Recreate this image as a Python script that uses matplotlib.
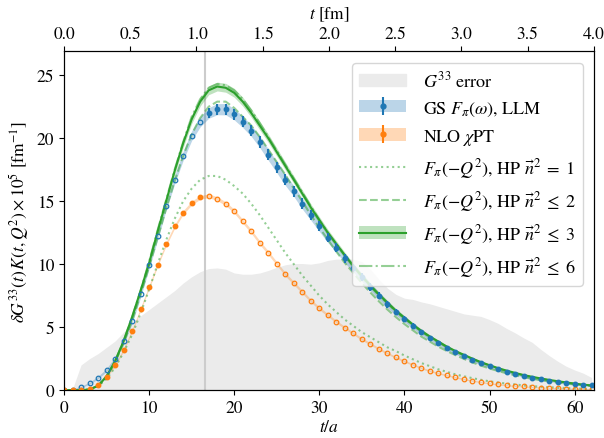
import numpy as np
import matplotlib
matplotlib.use("Agg")
from matplotlib import pyplot as plt
from matplotlib.patches import Patch

plt.rcParams['font.family'] = 'serif'
plt.rcParams['font.serif'] = ['STIXGeneral', 'Liberation Serif', 'DejaVu Serif']
plt.rcParams['mathtext.fontset'] = 'stix'
plt.rcParams['font.size'] = 12.5

A_FM = 0.06426
T_CUT = 16.6
T_A = list(range(63))

# gray band: size of the G^33 error
G33_ERR = [0.0, 0.1, 2.0, 2.5, 2.9, 3.4, 3.9, 4.6, 5.3, 5.9, 6.4, 6.9, 7.4, 7.9, 8.5, 9.0,
           9.4, 9.65, 9.7, 9.6, 9.3, 9.2, 9.2, 9.3, 9.5, 9.75, 9.95, 10.05, 10.05, 10.0, 10.1,
           10.3, 10.4, 10.4, 10.4, 10.2, 9.6, 8.8, 8.1, 7.6, 7.3, 7.2, 7.0, 6.85, 6.65, 6.45,
           6.25, 6.05, 5.95, 5.85, 5.6, 5.3, 4.9, 4.55, 4.15, 3.8, 3.25, 2.75, 2.3, 1.9, 1.6,
           1.35, 1.0]

# GS F_pi(omega), LLM
GS_VAL = [0.0, 0.05, 0.26, 0.55, 1.0, 1.6, 2.5, 3.9, 5.5, 7.6, 9.9, 12.2, 14.6, 16.7, 18.6,
          20.2, 21.3, 22.0, 22.3, 22.3, 21.9, 21.3, 20.6, 19.7, 18.7, 17.7, 16.7, 15.8, 14.8,
          13.9, 13.0, 12.1, 11.3, 10.45, 9.7, 8.95, 8.2, 7.5, 6.8, 6.2, 5.65, 5.1, 4.6, 4.15,
          3.75, 3.35, 3.0, 2.7, 2.4, 2.12, 1.88, 1.66, 1.46, 1.28, 1.11, 0.97, 0.85, 0.74,
          0.65, 0.57, 0.5, 0.44, 0.39]
GS_ERR = [0.02, 0.04, 0.06, 0.08, 0.1, 0.12, 0.15, 0.18, 0.2, 0.22, 0.25, 0.28, 0.3, 0.33,
          0.36, 0.38, 0.4, 0.42, 0.44, 0.45, 0.45, 0.45, 0.45, 0.45, 0.45, 0.44, 0.44, 0.43,
          0.42, 0.41, 0.4, 0.38, 0.36, 0.35, 0.33, 0.31, 0.3, 0.28, 0.26, 0.25, 0.23, 0.21,
          0.2, 0.18, 0.17, 0.16, 0.15, 0.14, 0.13, 0.12, 0.11, 0.1, 0.09, 0.08, 0.08, 0.07,
          0.07, 0.06, 0.06, 0.05, 0.05, 0.05, 0.05]

# NLO chiPT
CPT_VAL = [0.0, 0.0, 0.02, 0.12, 0.4, 1.08, 1.97, 3.2, 4.72, 6.43, 8.2, 9.97, 11.6, 13.0,
           14.1, 14.85, 15.3, 15.43, 15.2, 14.8, 14.2, 13.4, 12.6, 11.7, 10.9, 10.05, 9.2,
           8.5, 7.8, 7.1, 6.5, 5.96, 5.43, 4.96, 4.5, 4.06, 3.67, 3.28, 2.93, 2.6, 2.3, 2.03,
           1.76, 1.53, 1.34, 1.18, 1.02, 0.88, 0.75, 0.64, 0.54, 0.46, 0.39, 0.34, 0.29, 0.25,
           0.21, 0.18, 0.16, 0.13, 0.12, 0.1, 0.09]
CPT_ERR = [0.02, 0.03, 0.04, 0.05, 0.06, 0.08, 0.1, 0.12, 0.13, 0.14, 0.15, 0.15, 0.15,
           0.15, 0.15, 0.15, 0.15, 0.15, 0.15, 0.15, 0.15, 0.15, 0.15, 0.15, 0.15, 0.14,
           0.14, 0.13, 0.13, 0.12, 0.12, 0.11, 0.11, 0.1, 0.1, 0.1, 0.09, 0.09, 0.08, 0.08,
           0.08, 0.07, 0.07, 0.07, 0.06, 0.06, 0.06, 0.06, 0.05, 0.05, 0.05, 0.05, 0.05,
           0.05, 0.04, 0.04, 0.04, 0.04, 0.04, 0.04, 0.04, 0.04, 0.04]

# F_pi(-Q^2), HP fits
HP1_VAL = [0.0, 0.0, 0.0, 0.0, 0.3, 0.9, 1.8, 3.0, 4.4, 6.1, 8.0, 10.0, 11.9, 13.6, 15.0,
           16.0, 16.7, 17.0, 17.0, 16.7, 16.2, 15.6, 14.8, 13.9, 12.9, 11.9, 10.9, 10.0, 9.1,
           8.3, 7.5, 6.8, 6.2, 5.6, 5.1, 4.6, 4.2, 3.8, 3.4, 3.1, 2.75, 2.45, 2.15, 1.9,
           1.65, 1.45, 1.25, 1.1, 0.95, 0.82, 0.7, 0.6, 0.52, 0.45, 0.38, 0.32, 0.27, 0.23,
           0.2, 0.17, 0.14, 0.12, 0.1]
HP2_VAL = [0.0, 0.0, 0.0, 0.05, 0.35, 1.05, 2.2, 3.7, 5.5, 7.6, 9.8, 12.1, 14.4, 16.6,
           18.6, 20.3, 21.6, 22.5, 22.9, 22.9, 22.4, 21.7, 21.0, 20.1, 19.1, 18.1, 17.1,
           16.0, 15.0, 13.9, 12.9, 11.95, 11.0, 10.1, 9.3, 8.5, 7.75, 7.05, 6.4, 5.8, 5.25,
           4.75, 4.25, 3.85, 3.45, 3.1, 2.78, 2.48, 2.2, 1.95, 1.72, 1.52, 1.34, 1.18, 1.03,
           0.9, 0.79, 0.69, 0.6, 0.52, 0.45, 0.39, 0.34]
HP3_VAL = [0.0, 0.0, 0.0, 0.05, 0.35, 1.1, 2.3, 3.9, 5.8, 7.9, 10.1, 12.6, 15.0, 17.4, 19.6,
           21.5, 22.9, 23.8, 24.1, 24.0, 23.6, 22.9, 22.0, 21.0, 20.0, 18.9, 17.8, 16.7,
           15.6, 14.5, 13.5, 12.5, 11.6, 10.7, 9.85, 9.05, 8.3, 7.6, 6.95, 6.3, 5.75, 5.2,
           4.7, 4.25, 3.85, 3.45, 3.1, 2.8, 2.5, 2.22, 1.98, 1.75, 1.55, 1.37, 1.2, 1.06,
           0.93, 0.81, 0.71, 0.61, 0.52, 0.44, 0.37]
HP3_ERR = [0.0, 0.0, 0.0, 0.01, 0.03, 0.06, 0.1, 0.14, 0.18, 0.22, 0.25, 0.28, 0.3, 0.32,
           0.33, 0.34, 0.35, 0.35, 0.35, 0.35, 0.35, 0.35, 0.34, 0.34, 0.33, 0.32, 0.31,
           0.3, 0.29, 0.28, 0.27, 0.26, 0.25, 0.24, 0.22, 0.21, 0.2, 0.19, 0.18, 0.17, 0.16,
           0.15, 0.14, 0.13, 0.12, 0.11, 0.1, 0.09, 0.08, 0.08, 0.07, 0.06, 0.06, 0.05,
           0.05, 0.04, 0.04, 0.04, 0.03, 0.03, 0.03, 0.03, 0.03]
HP6_VAL = [0.0, 0.0, 0.0, 0.05, 0.35, 1.1, 2.3, 3.9, 5.8, 7.9, 10.2, 12.7, 15.1, 17.5, 19.7,
           21.7, 23.1, 24.0, 24.3, 24.2, 23.8, 23.1, 22.2, 21.2, 20.1, 19.0, 17.9, 16.8,
           15.7, 14.6, 13.5, 12.5, 11.6, 10.7, 9.85, 9.0, 8.25, 7.55, 6.9, 6.25, 5.7, 5.15,
           4.65, 4.2, 3.8, 3.4, 3.05, 2.75, 2.45, 2.18, 1.94, 1.71, 1.51, 1.33, 1.17, 1.03,
           0.9, 0.79, 0.69, 0.6, 0.51, 0.43, 0.36]

BLUE = '#1f77b4'
ORANGE = '#ff7f0e'
GREEN = '#2ca02c'


def main():
    t = np.array(T_A)
    gs = np.array(GS_VAL)
    gs_err = np.array(GS_ERR)
    cpt = np.array(CPT_VAL)
    cpt_err = np.array(CPT_ERR)
    hp3 = np.array(HP3_VAL)
    hp3_err = np.array(HP3_ERR)

    fig = plt.figure(figsize=(6.04, 4.39), dpi=100)
    ax = fig.add_axes([0.106, 0.109, 0.877, 0.772])

    ax.fill_between(t, 0, G33_ERR, color='#ebebeb', lw=0, zorder=0)
    ax.axvline(T_CUT, color='#cccccc', lw=1.5, zorder=1)

    # GS / LLM
    ax.fill_between(t, gs - gs_err, gs + gs_err, color=BLUE, alpha=0.3, lw=0, zorder=2)
    early = t < T_CUT
    late = ~early
    ax.plot(t[early], gs[early], 'o', ms=3.3, mfc='none', mec=BLUE, mew=0.9, zorder=4)
    ax.errorbar(t[late], gs[late], yerr=gs_err[late], fmt='o', ms=3.2, color=BLUE,
                elinewidth=1.5, capsize=0, zorder=4)

    # NLO chiPT
    ax.fill_between(t, cpt - cpt_err, cpt + cpt_err, color=ORANGE, alpha=0.3, lw=0, zorder=2)
    ax.errorbar(t[early], cpt[early], yerr=cpt_err[early], fmt='o', ms=3.2, color=ORANGE,
                elinewidth=1.5, capsize=0, zorder=4)
    ax.plot(t[late], cpt[late], 'o', ms=3.3, mfc='none', mec=ORANGE, mew=0.9, zorder=4)

    # HP curves
    ax.plot(t, HP1_VAL, ':', color=GREEN, alpha=0.5, lw=1.5, zorder=3)
    ax.plot(t, HP2_VAL, '--', color=GREEN, alpha=0.5, lw=1.5, zorder=3)
    ax.fill_between(t, hp3 - hp3_err, hp3 + hp3_err, color=GREEN, alpha=0.3, lw=0, zorder=3)
    ax.plot(t, hp3, '-', color=GREEN, lw=1.5, zorder=3)
    ax.plot(t, HP6_VAL, '-.', color=GREEN, alpha=0.5, lw=1.5, zorder=3)

    t_max = 4.0 / A_FM
    ax.set_xlim(0, t_max)
    ax.set_ylim(0, 26.9)
    ax.set_xticks([0, 10, 20, 30, 40, 50, 60])
    ax.set_yticks([0, 5, 10, 15, 20, 25])
    ax.set_xlabel(r'$t/a$', labelpad=2)
    ax.set_ylabel(r'$\delta G^{33}(t)\,K(t,Q^2)\times 10^5$ [fm$^{-1}$]', labelpad=4)

    top = ax.twiny()
    top.set_xlim(0, 4.0)
    top.set_xticks([0.0, 0.5, 1.0, 1.5, 2.0, 2.5, 3.0, 3.5, 4.0])
    top.xaxis.set_major_formatter(plt.FormatStrFormatter('%.1f'))
    top.set_xlabel(r'$t$ [fm]', labelpad=5)

    # legend
    h_err = Patch(color='#ebebeb')
    h_gs_band = Patch(color=BLUE, alpha=0.3, lw=0)
    h_gs_pt = ax.errorbar([], [], yerr=[], fmt='o', ms=3.5, color=BLUE, elinewidth=1.5)
    h_cpt_band = Patch(color=ORANGE, alpha=0.3, lw=0)
    h_cpt_pt = ax.errorbar([], [], yerr=[], fmt='o', ms=3.5, color=ORANGE, elinewidth=1.5)
    h1, = ax.plot([], [], ':', color=GREEN, alpha=0.5, lw=1.5)
    h2, = ax.plot([], [], '--', color=GREEN, alpha=0.5, lw=1.5)
    h3_band = Patch(color=GREEN, alpha=0.3, lw=0)
    h3, = ax.plot([], [], '-', color=GREEN, lw=1.5)
    h6, = ax.plot([], [], '-.', color=GREEN, alpha=0.5, lw=1.5)

    handles = [h_err, (h_gs_band, h_gs_pt), (h_cpt_band, h_cpt_pt), h1, h2, (h3_band, h3), h6]
    labels = [r'$G^{33}$ error',
              r'GS $F_\pi(\omega)$, LLM',
              r'NLO $\chi$PT',
              r'$F_\pi(-Q^2)$, HP $\vec{n}^2\;=\;1$',
              r'$F_\pi(-Q^2)$, HP $\vec{n}^2\;\leq\;2$',
              r'$F_\pi(-Q^2)$, HP $\vec{n}^2\;\leq\;3$',
              r'$F_\pi(-Q^2)$, HP $\vec{n}^2\;\leq\;6$']
    ax.legend(handles, labels, loc='upper right', bbox_to_anchor=(0.979, 0.965),
              borderaxespad=0, fontsize=13, handlelength=2.6, handletextpad=0.9,
              labelspacing=0.5, framealpha=0.8)

    fig.savefig('out.png', dpi=100)
    plt.close()


if __name__ == '__main__':
    main()
